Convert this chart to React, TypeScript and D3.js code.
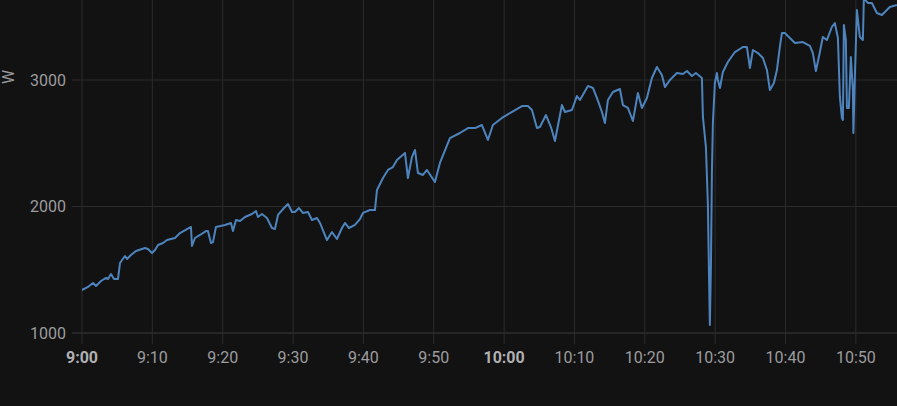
import * as d3 from "d3";

// minutes after 9:00 and power in watts
const minutes = [
  0, 0.85, 1.56, 1.99, 2.7, 3.41, 3.7, 4.12, 4.55, 5.12, 5.4, 6.11, 6.4, 6.96, 7.67, 8.95, 9.38, 9.95,
  10.38, 10.8, 11.51, 12.08, 13.22, 13.93, 15.49, 15.63, 16.06, 16.77, 17.62, 17.9, 18.33, 18.62, 19.04,
  20.32, 21.18, 21.46, 21.89, 22.46, 23.17, 24.16, 24.73, 25.01, 25.58, 26.29, 27.0, 27.43, 27.86, 28.57,
  29.28, 29.85, 30.27, 30.84, 31.41, 32.12, 32.69, 33.4, 33.83, 34.82, 35.53, 36.24, 36.95, 37.38, 37.95,
  38.8, 39.51, 39.94, 40.93, 41.64, 41.93, 42.78, 43.49, 44.2, 44.77, 45.91, 46.33, 46.9, 47.33, 47.75,
  48.46, 49.03, 50.17, 50.88, 52.3, 53.72, 54.86, 55.86, 56.85, 57.7, 58.41, 59.69, 60.83, 62.54, 63.39,
  63.96, 64.67, 65.09, 65.95, 66.66, 67.23, 68.22, 68.65, 69.64, 70.35, 70.78, 71.92, 72.63, 73.19, 73.91,
  74.33, 74.76, 75.47, 76.46, 76.89, 77.6, 78.31, 79.02, 79.59, 80.3, 81.01, 81.72, 82.43, 82.86, 83.57,
  84.56, 85.42, 85.99, 86.7, 87.26, 88.12, 88.26, 88.69, 88.97, 89.11, 89.25, 89.4, 89.54, 89.68, 89.96,
  90.25, 90.39, 90.68, 91.1, 91.81, 92.81, 93.95, 94.51, 94.94, 95.37, 96.08, 96.79, 97.36, 97.78, 98.35,
  98.78, 99.2, 99.49, 99.91, 100.62, 101.34, 102.47, 103.47, 103.89, 104.32, 104.89, 105.31, 105.88,
  106.59, 107.02, 107.45, 107.73, 108.02, 108.16, 108.3, 108.58, 108.73, 109.01, 109.29, 109.58, 109.65,
  109.86, 110.15, 110.57, 111.0, 111.14, 111.71, 112.28, 112.99, 113.7, 114.83, 115.83,
];

const watts = [
  1340, 1364, 1395, 1372, 1411, 1435, 1427, 1466, 1427, 1427, 1553, 1609, 1585, 1617, 1648, 1672, 1664, 1632,
  1656, 1696, 1711, 1735, 1751, 1790, 1838, 1688, 1751, 1775, 1806, 1806, 1711, 1719, 1838,
  1854, 1870, 1806, 1893, 1885, 1917, 1941, 1964, 1917, 1941, 1909, 1830, 1822, 1933, 1980,
  2020, 1956, 1956, 1988, 1949, 1956, 1893, 1909, 1870, 1735, 1798, 1743, 1830, 1870, 1830,
  1854, 1901, 1949, 1972, 1972, 2130, 2225, 2289, 2312, 2368, 2423, 2225, 2391, 2447, 2265,
  2249, 2289, 2194, 2344, 2541, 2581, 2620, 2620, 2644, 2526, 2644, 2700, 2739, 2794, 2794,
  2763, 2620, 2628, 2723, 2628, 2518, 2802, 2747, 2763, 2873, 2842, 2953, 2937, 2858, 2747,
  2660, 2842, 2905, 2929, 2802, 2779, 2676, 2897, 2779, 2858, 3016, 3103, 3040, 2944, 3000,
  3055, 3047, 3071, 3032, 3055, 3016, 2708, 2470, 2012, 1522, 1063, 1522, 2265, 2660, 2976,
  3055, 3000, 2937, 3063, 3142, 3221, 3261, 3261, 3095, 3237, 3213, 3174, 3079, 2921, 2976,
  3079, 3261, 3371, 3371, 3332, 3292, 3300, 3269, 3213, 3071, 3221, 3340, 3316,
  3419, 3450, 3332, 2866, 2700, 2684, 3435, 3316, 2779, 2779, 3182, 2921, 2581,
  3024, 3553, 3340, 3316, 3645, 3609, 3609, 3530, 3514, 3577, 3593,
];

const yTicks = [1000, 2000, 3000];
const yLabel = "W";

const width = 897;
const height = 406;
const left = 82;
const bottom = 333;

const start = new Date(2024, 0, 1, 9, 0, 0);
const toDate = (m: number) => new Date(start.getTime() + m * 60000);

const x = d3
  .scaleTime()
  .domain([start, toDate(115.85)])
  .range([left, width]);

const y = d3.scaleLinear().domain([1000, 3632.4]).range([bottom, 0]);

const xTicks = x.ticks(d3.timeMinute.every(10)!);
const fmt = d3.timeFormat("%-H:%M");

const points = minutes.map((m, i) => [toDate(m), watts[i]] as [Date, number]);
const line = d3
  .line<[Date, number]>()
  .x(d => x(d[0]))
  .y(d => y(d[1]));

const bg = "#121212";
const grid = "#2c2c2e";
const text = "#9c9c9f";
const font = "Roboto, 'Noto Sans', sans-serif";

export default function App() {
  return (
    <div style={{ position: "fixed", left: 0, top: 0, width, height, background: bg }}>
      <svg width={width} height={height} style={{ display: "block" }}>
        <defs>
          <clipPath id="plot">
            <rect x={left} y={0} width={width - left} height={bottom} />
          </clipPath>
        </defs>
        <rect width={width} height={height} fill={bg} />

        {yTicks.map(t => (
          <g key={t}>
            <line x1={72} x2={width} y1={y(t)} y2={y(t)} stroke={t === 1000 ? "#3a3a3c" : grid} />
            <text
              x={66}
              y={y(t)}
              dy="0.35em"
              textAnchor="end"
              fill={text}
              fontFamily={font}
              fontSize={16}
            >
              {t}
            </text>
          </g>
        ))}

        {xTicks.map(t => {
          const isHour = t.getMinutes() === 0;
          return (
            <g key={t.getTime()}>
              <line x1={x(t)} x2={x(t)} y1={0} y2={344} stroke={grid} />
              <text
                x={x(t)}
                y={357}
                dy="0.35em"
                textAnchor="middle"
                fill={isHour ? "#b0b0b3" : text}
                fontFamily={font}
                fontSize={16}
                fontWeight={isHour ? 700 : 400}
              >
                {fmt(t)}
              </text>
            </g>
          );
        })}

        <text
          transform={`translate(8,77) rotate(-90)`}
          textAnchor="middle"
          dy="0.35em"
          fill={text}
          fontFamily={font}
          fontSize={16}
        >
          {yLabel}
        </text>

        <path
          d={line(points) ?? ""}
          fill="none"
          stroke="#4d84be"
          strokeWidth={2}
          strokeLinejoin="round"
          clipPath="url(#plot)"
        />
      </svg>
    </div>
  );
}
